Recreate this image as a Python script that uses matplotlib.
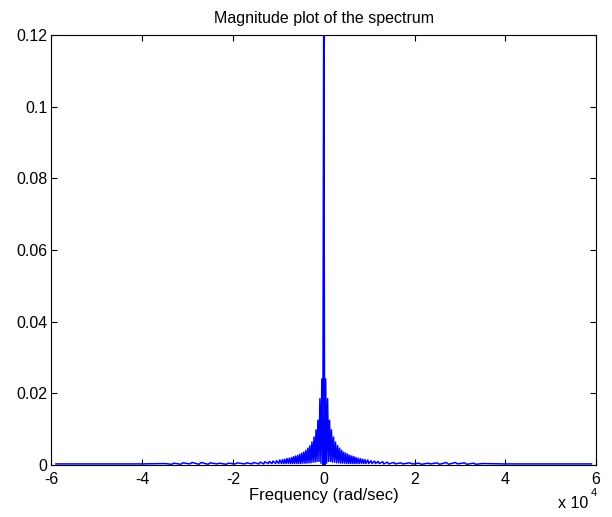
import numpy as np
import matplotlib.pyplot as plt

# Positive half of the magnitude spectrum (rad/sec, magnitude).
# The spectrum is symmetric, so the negative half is its mirror image.
freq_pos = [0, 200, 420, 620, 850, 1050, 1280, 1480, 1700, 1900, 2150, 2350,
            2600, 2800, 3050, 3250, 3500, 3700, 3950, 4150, 4400, 4600, 4850,
            5050, 5300, 5500, 5750, 5950, 6200, 6400, 6650, 6850, 7100, 7300,
            7600, 7800, 8100, 8300, 8600, 8800, 9100, 9300, 9700, 9900, 10400,
            10600, 11200, 11400, 12000, 12200, 13000, 13200, 14000, 14300,
            15500, 15800, 17000, 17400, 19000, 19500, 21000, 21500, 23000,
            23500, 25000, 25500, 27000, 27500, 29000, 29500, 31000, 31500,
            33000, 33500, 35000, 40000, 50000, 59000]
mag_pos = [0.135, 0.0, 0.024, 0.0005, 0.0185, 0.001, 0.0125, 0.001, 0.0098,
           0.0008, 0.0078, 0.0008, 0.0064, 0.0006, 0.0054, 0.0006, 0.0047,
           0.0005, 0.0041, 0.0005, 0.0036, 0.0005, 0.0033, 0.0004, 0.0030,
           0.0004, 0.0027, 0.0004, 0.0025, 0.0004, 0.0023, 0.0004, 0.0021,
           0.0004, 0.0019, 0.0004, 0.0018, 0.0004, 0.0016, 0.0004, 0.0015,
           0.0004, 0.0014, 0.0004, 0.0012, 0.0004, 0.0011, 0.0004, 0.0010,
           0.0004, 0.0009, 0.0003, 0.0008, 0.0003, 0.0007, 0.0003, 0.0006,
           0.0003, 0.0006, 0.0003, 0.0005, 0.0002, 0.0005, 0.0003, 0.0006,
           0.0002, 0.0007, 0.0002, 0.0007, 0.0003, 0.0006, 0.0002, 0.0005,
           0.0002, 0.0004, 0.0003, 0.0003, 0.0003]

x_ticks = [-60000, -40000, -20000, 0, 20000, 40000, 60000]
x_labels = ['-6', '-4', '-2', '0', '2', '4', '6']
y_ticks = [0, 0.02, 0.04, 0.06, 0.08, 0.1, 0.12]
y_labels = ['0', '0.02', '0.04', '0.06', '0.08', '0.1', '0.12']


def main():
    plt.rcParams['font.family'] = ['Liberation Sans', 'DejaVu Sans']

    fp = np.array(freq_pos, dtype=float)
    mp = np.array(mag_pos, dtype=float)
    freq = np.concatenate([-fp[:0:-1], fp])
    mag = np.concatenate([mp[:0:-1], mp])

    fig = plt.figure(figsize=(6.12, 5.17), dpi=100)
    ax = fig.add_axes([0.084, 0.1006, 0.890, 0.8317])

    ax.plot(freq, mag, color='#0000ff', linewidth=1.1)

    ax.set_xlim(-60000, 60000)
    ax.set_ylim(0, 0.12)
    ax.set_xticks(x_ticks)
    ax.set_xticklabels(x_labels)
    ax.set_yticks(y_ticks)
    ax.set_yticklabels(y_labels)
    ax.tick_params(direction='in', top=True, right=True, length=4,
                   width=0.8, labelsize=11.5)
    ax.tick_params(axis='x', pad=5)
    ax.tick_params(axis='y', pad=3)
    for s in ax.spines.values():
        s.set_linewidth(0.8)

    ax.set_title('Magnitude plot of the spectrum', fontsize=11.5, pad=9)
    ax.set_xlabel('Frequency (rad/sec)', fontsize=12, labelpad=0.5)

    # MATLAB-style exponent under the right end of the x axis
    fig.text(0.911, 0.012, 'x 10', fontsize=11.5, ha='left', va='bottom')
    fig.text(0.965, 0.037, '4', fontsize=8, ha='left', va='bottom')

    fig.savefig('out.png', dpi=100)


if __name__ == "__main__":
    main()
